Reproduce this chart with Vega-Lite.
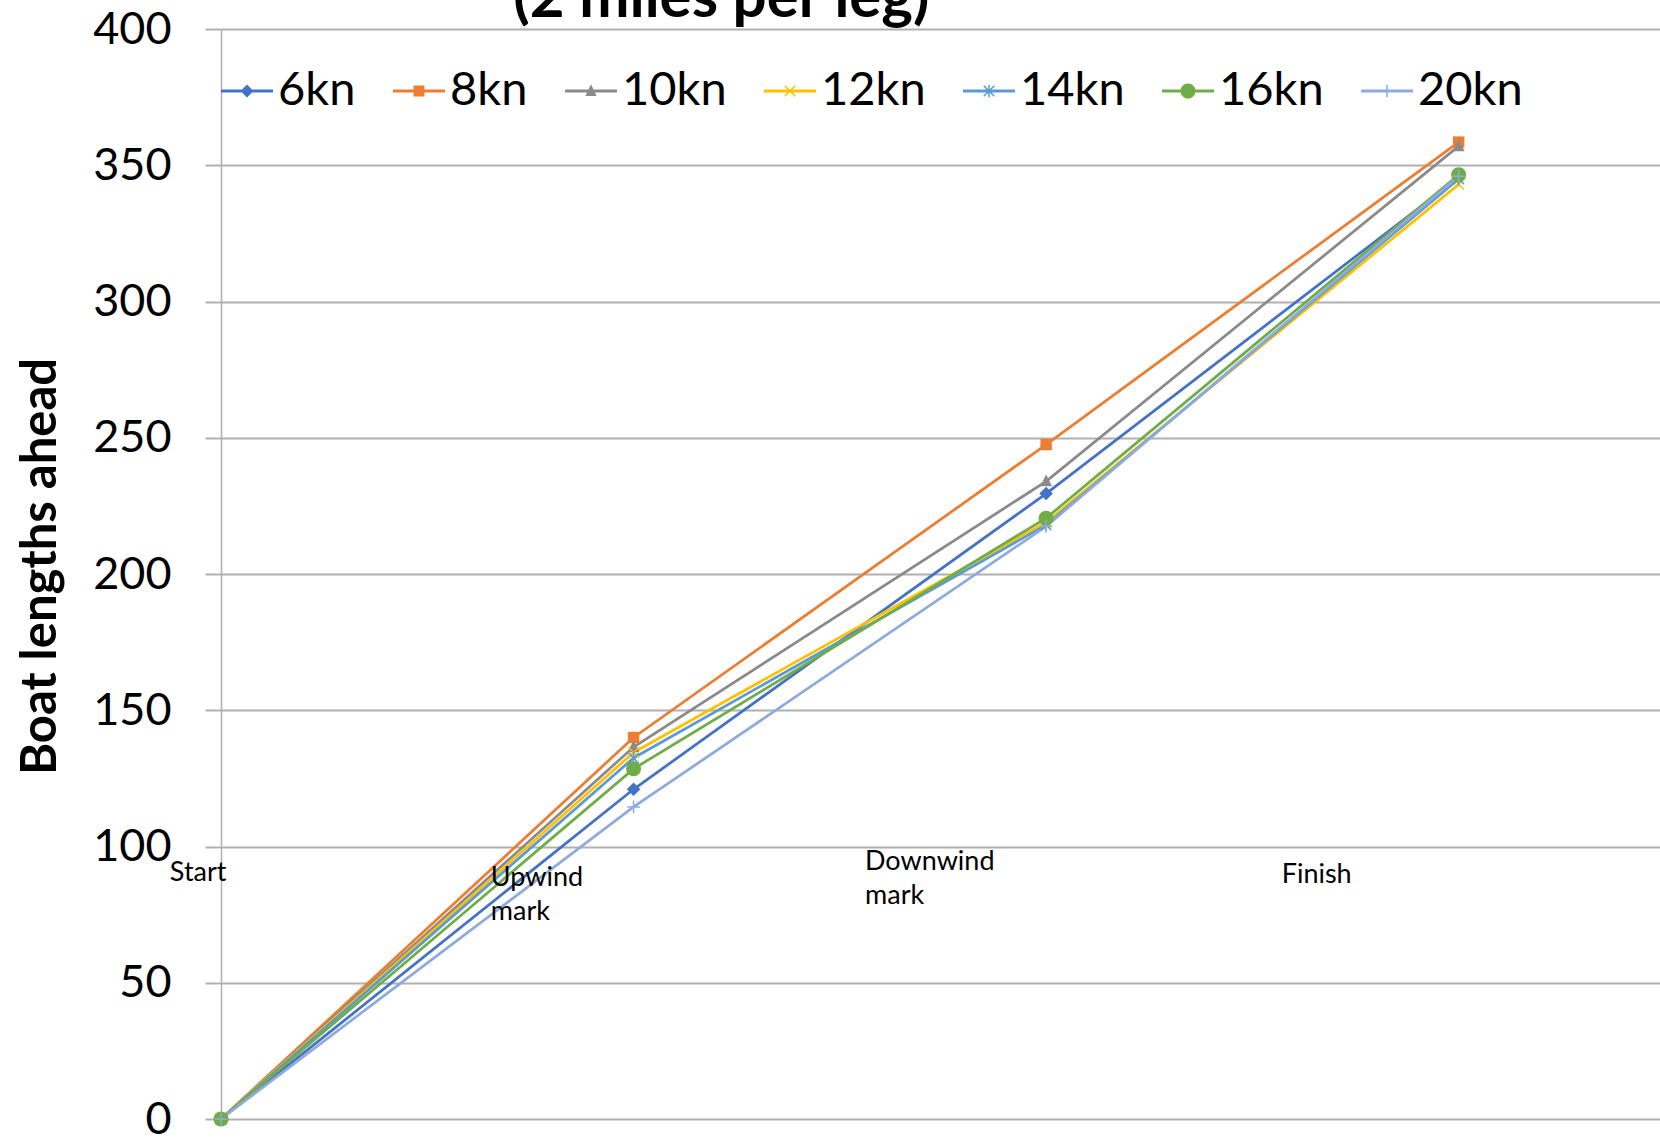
{
  "$schema": "https://vega.github.io/schema/vega-lite/v6.json",
  "width": 1439,
  "height": 1090,
  "autosize": {"type": "none"},
  "padding": {"left": 221, "top": 29, "right": 0, "bottom": 20},
  "background": "white",
  "config": {"view": {"stroke": null}, "font": "Lato"},
  "datasets": {
    "legs": [
      {"series": "6kn", "stage": 0, "value": 0}, {"series": "6kn", "stage": 1, "value": 121}, {"series": "6kn", "stage": 2, "value": 229.5}, {"series": "6kn", "stage": 3, "value": 345.5},
      {"series": "8kn", "stage": 0, "value": 0}, {"series": "8kn", "stage": 1, "value": 140}, {"series": "8kn", "stage": 2, "value": 247.5}, {"series": "8kn", "stage": 3, "value": 358.5},
      {"series": "10kn", "stage": 0, "value": 0}, {"series": "10kn", "stage": 1, "value": 136.5}, {"series": "10kn", "stage": 2, "value": 234}, {"series": "10kn", "stage": 3, "value": 357},
      {"series": "12kn", "stage": 0, "value": 0}, {"series": "12kn", "stage": 1, "value": 134.5}, {"series": "12kn", "stage": 2, "value": 219}, {"series": "12kn", "stage": 3, "value": 343},
      {"series": "14kn", "stage": 0, "value": 0}, {"series": "14kn", "stage": 1, "value": 132.5}, {"series": "14kn", "stage": 2, "value": 218}, {"series": "14kn", "stage": 3, "value": 345},
      {"series": "16kn", "stage": 0, "value": 0}, {"series": "16kn", "stage": 1, "value": 128.5}, {"series": "16kn", "stage": 2, "value": 220.5}, {"series": "16kn", "stage": 3, "value": 346.5},
      {"series": "20kn", "stage": 0, "value": 0}, {"series": "20kn", "stage": 1, "value": 114.5}, {"series": "20kn", "stage": 2, "value": 217.5}, {"series": "20kn", "stage": 3, "value": 346}
    ],
    "notes": [
      {"label": "Start", "stage": -0.124, "value": 87.4},
      {"label": "Upwind\nmark", "stage": 0.654, "value": 85.6},
      {"label": "Downwind\nmark", "stage": 1.561, "value": 91.4},
      {"label": "Finish", "stage": 2.571, "value": 86.5}
    ],
    "heading": [
      {"label": "(2 miles per leg)", "stage": 1.213, "value": 404.4}
    ]
  },
  "encoding": {
    "x": {"field": "stage", "type": "quantitative", "scale": {"domain": [0, 3.488], "nice": false, "zero": false}, "axis": null},
    "y": {"field": "value", "type": "quantitative", "scale": {"domain": [0, 400], "nice": false},
      "axis": {"title": "Boat lengths ahead", "values": [0, 50, 100, 150, 200, 250, 300, 350, 400],
        "labelFontSize": 45, "labelFont": "Lato", "labelColor": "black", "labelPadding": 34,
        "tickSize": 16, "tickColor": "#b0b0b0", "tickWidth": 2,
        "grid": true, "gridColor": "#b0b0b0", "gridWidth": 2,
        "domainColor": "#b0b0b0", "domainWidth": 1.5,
        "titleFontSize": 49, "titleFont": "Lato", "titleFontWeight": "bold", "titleColor": "black",
        "titleAngle": -90, "titleX": -181, "titleY": 537, "titleAlign": "center", "titleBaseline": "middle"}}
  },
  "layer": [
    {
      "data": {"name": "legs"},
      "mark": {"type": "line", "strokeWidth": 2.75},
      "encoding": {
        "color": {"field": "series", "type": "nominal", "legend": null,
          "scale": {"domain": ["6kn", "8kn", "10kn", "12kn", "14kn", "16kn", "20kn"], "range": ["#4472C4", "#ED7D31", "#8A8A8A", "#FFC000", "#5B9BD5", "#70AD47", "#8FAADC"]}}
      }
    },
    {
      "data": {"name": "legs"},
      "mark": {"type": "point", "filled": true, "opacity": 1, "size": 225},
      "encoding": {
        "color": {"field": "series", "type": "nominal", "legend": null,
          "scale": {"domain": ["6kn", "8kn", "10kn", "12kn", "14kn", "16kn", "20kn"], "range": ["#4472C4", "#ED7D31", "#8A8A8A", "#FFC000", "#5B9BD5", "#70AD47", "#8FAADC"]}},
        "shape": {"field": "series", "type": "nominal", "legend": null,
          "scale": {"domain": ["6kn", "8kn", "10kn", "12kn", "14kn", "16kn", "20kn"], "range": [
            "M0,-0.9L0.9,0L0,0.9L-0.9,0Z",
            "M-0.76,-0.76L0.76,-0.76L0.76,0.76L-0.76,0.76Z",
            "M0,-0.92L0.78,0.66L-0.78,0.66Z",
            "M-0.63,-0.77L0.77,0.63L0.63,0.77L-0.77,-0.63ZM-0.77,0.63L0.63,-0.77L0.77,-0.63L-0.63,0.77Z",
            "M-0.63,-0.77L0.77,0.63L0.63,0.77L-0.77,-0.63ZM-0.77,0.63L0.63,-0.77L0.77,-0.63L-0.63,0.77ZM-0.1,-0.85L0.1,-0.85L0.1,0.85L-0.1,0.85Z",
            "M-1,0A1,1,0,1,1,1,0A1,1,0,1,1,-1,0Z",
            "M-0.85,-0.1L0.85,-0.1L0.85,0.1L-0.85,0.1ZM-0.1,-0.85L0.1,-0.85L0.1,0.85L-0.1,0.85Z"
          ]}}
      }
    },
    {
      "data": {"name": "legs"},
      "transform": [{"filter": "false"}],
      "mark": {"type": "point", "filled": true, "opacity": 1},
      "encoding": {
        "color": {"field": "series", "type": "nominal",
          "scale": {"domain": ["6kn", "8kn", "10kn", "12kn", "14kn", "16kn", "20kn"], "range": ["#4472C4", "#ED7D31", "#8A8A8A", "#FFC000", "#5B9BD5", "#70AD47", "#8FAADC"]},
          "legend": {"orient": "none", "legendX": 0, "legendY": 36, "direction": "horizontal", "columns": 7, "title": null,
            "symbolSize": 2704, "symbolStrokeWidth": 0, "labelFontSize": 47, "labelFont": "Lato", "labelColor": "black",
            "labelOffset": 5, "columnPadding": 37, "padding": 0, "labelLimit": 0}},
        "shape": {"field": "series", "type": "nominal",
          "scale": {"domain": ["6kn", "8kn", "10kn", "12kn", "14kn", "16kn", "20kn"], "range": [
            "M-1,-0.055L1,-0.055L1,0.055L-1,0.055ZM0,-0.25L0.25,0L0,0.25L-0.25,0Z",
            "M-1,-0.055L1,-0.055L1,0.055L-1,0.055ZM-0.21,-0.21L0.21,-0.21L0.21,0.21L-0.21,0.21Z",
            "M-1,-0.055L1,-0.055L1,0.055L-1,0.055ZM0,-0.26L0.216,0.19L-0.216,0.19Z",
            "M-1,-0.055L1,-0.055L1,0.055L-1,0.055ZM-0.182,-0.222L0.222,0.182L0.182,0.222L-0.222,-0.182ZM-0.222,0.182L0.182,-0.222L0.222,-0.182L-0.182,0.222Z",
            "M-1,-0.055L1,-0.055L1,0.055L-1,0.055ZM-0.182,-0.222L0.222,0.182L0.182,0.222L-0.222,-0.182ZM-0.222,0.182L0.182,-0.222L0.222,-0.182L-0.182,0.222ZM-0.029,-0.245L0.029,-0.245L0.029,0.245L-0.029,0.245Z",
            "M-1,-0.055L1,-0.055L1,0.055L-1,0.055ZM-0.29,0A0.29,0.29,0,1,1,0.29,0A0.29,0.29,0,1,1,-0.29,0Z",
            "M-1,-0.055L1,-0.055L1,0.055L-1,0.055ZM-0.029,-0.245L0.029,-0.245L0.029,0.245L-0.029,0.245Z"
          ]},
          "legend": {"orient": "none", "legendX": 0, "legendY": 36, "direction": "horizontal", "columns": 7, "title": null,
            "symbolSize": 2704, "symbolStrokeWidth": 0, "labelFontSize": 47, "labelFont": "Lato", "labelColor": "black",
            "labelOffset": 5, "columnPadding": 37, "padding": 0, "labelLimit": 0}}
      }
    },
    {
      "data": {"name": "notes"},
      "mark": {"type": "text", "align": "left", "baseline": "alphabetic", "fontSize": 27, "font": "Lato", "color": "black", "lineBreak": "\n", "lineHeight": 34},
      "encoding": {
        "text": {"field": "label", "type": "nominal"}
      }
    },
    {
      "data": {"name": "heading"},
      "mark": {"type": "text", "align": "center", "baseline": "alphabetic", "fontSize": 60, "fontWeight": "bold", "font": "Lato", "color": "black"},
      "encoding": {
        "text": {"field": "label", "type": "nominal"}
      }
    }
  ],
  "resolve": {"scale": {"color": "independent", "shape": "independent"}}
}
